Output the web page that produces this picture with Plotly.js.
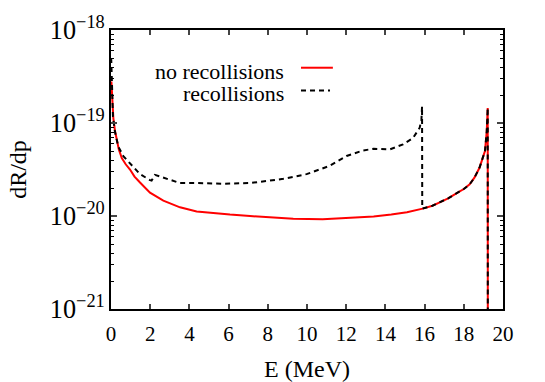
<!DOCTYPE html>
<html>
<head>
<meta charset="utf-8">
<script src="https://cdn.plot.ly/plotly-3.0.1.min.js"></script>
<style>
  html, body { margin: 0; padding: 0; background: #fff; }
  #chart { width: 545px; height: 382px; }
</style>
</head>
<body>
<div id="chart"></div>
<script>
// no recollisions (red)
var eNoRec = [0.02, 0.07, 0.12, 0.2, 0.29, 0.4, 0.55, 0.75, 0.97, 1.2, 1.48, 1.99, 2.67, 3.52, 4.37, 5.22,
    6.07, 7.09, 8.2, 9.3, 10.8, 12.2, 13.4, 14.3, 15.1, 15.9, 16.4, 16.8, 17.2, 17.6, 18.0, 18.3, 18.55,
    18.8, 19.0, 19.08, 19.17, 19.22, 19.23];
var rNoRec = [2.79e-19, 1.85e-19, 1.13e-19, 8.3e-20, 6.6e-20, 5.2e-20, 4.2e-20, 3.6e-20, 3.16e-20, 2.65e-20,
    2.29e-20, 1.78e-20, 1.46e-20, 1.24e-20, 1.12e-20, 1.07e-20,
    1.035e-20, 1.0e-20, 9.6e-21, 9.35e-21, 9.2e-21, 9.5e-21, 9.9e-21, 1.04e-20, 1.10e-20, 1.20e-20, 1.29e-20,
    1.41e-20, 1.55e-20, 1.74e-20, 1.95e-20, 2.19e-20, 2.6e-20,
    3.3e-20, 4.3e-20, 5.0e-20, 8.1e-20, 1.45e-19, 1e-23];

// recollisions (black dashed)
var eRec = [0.01, 0.05, 0.1, 0.2, 0.37, 0.63, 0.97, 1.48, 1.99, 2.07, 2.24, 2.67, 3.52, 4.4, 5.73, 7.09,
    8.0, 8.79, 9.98, 11.17, 12.02, 12.87, 13.4, 14.23, 14.9, 15.41, 15.75, 15.84, 15.87, 15.88, 16.4, 16.8,
    17.2, 17.6, 18.0, 18.3, 18.55, 18.8, 19.0, 19.08, 19.17, 19.22, 19.23];
var rRec = [5.0e-19, 1.78e-19, 1.17e-19, 8.1e-20, 5.6e-20, 4.4e-20, 3.7e-20, 2.82e-20, 2.43e-20, 2.40e-20,
    2.77e-20, 2.6e-20, 2.26e-20, 2.26e-20, 2.22e-20, 2.26e-20,
    2.4e-20, 2.51e-20, 2.82e-20, 3.47e-20, 4.42e-20, 5.07e-20, 5.28e-20, 5.2e-20, 5.9e-20, 6.9e-20, 8.9e-20,
    1.10e-19, 1.51e-19, 1.2e-20, 1.29e-20, 1.41e-20,
    1.55e-20, 1.74e-20, 1.95e-20, 2.19e-20, 2.6e-20, 3.3e-20, 4.3e-20, 5.0e-20, 8.1e-20, 1.45e-19, 1e-23];

var font = 'Liberation Serif';

var data = [
    {
        x: eNoRec, y: rNoRec,
        name: 'no recollisions',
        type: 'scatter', mode: 'lines',
        line: {color: '#ff0000', width: 2},
        showlegend: false
    },
    {
        x: eRec, y: rRec,
        name: 'recollisions',
        type: 'scatter', mode: 'lines',
        line: {color: '#000000', width: 2, dash: '5px,4px'},
        showlegend: false
    }
];

var layout = {
    width: 545,
    height: 382,
    margin: {l: 111, r: 42, t: 28, b: 73},
    paper_bgcolor: '#fff',
    plot_bgcolor: '#fff',
    font: {family: font, size: 21, color: '#000'},
    xaxis: {
        range: [0, 20],
        dtick: 2,
        ticks: 'inside',
        ticklen: 5,
        tickwidth: 1.5,
        ticklabelstandoff: 5,
        tickfont: {family: font, size: 21},
        showline: true,
        linewidth: 2,
        linecolor: '#000',
        mirror: 'allticks',
        showgrid: false,
        zeroline: false,
        title: {text: 'E (MeV)', font: {family: font, size: 24}}
    },
    yaxis: {
        type: 'log',
        range: [-21, -18],
        dtick: 1,
        exponentformat: 'power',
        showexponent: 'all',
        ticks: 'inside',
        ticklen: 6,
        tickwidth: 1.5,
        tickfont: {family: font, size: 21},
        minor: {ticks: 'inside', ticklen: 3, dtick: 'D1', tickcolor: '#000', tickwidth: 1},
        showline: true,
        linewidth: 2,
        linecolor: '#000',
        mirror: 'allticks',
        showgrid: false,
        zeroline: false,
        automargin: true,
        title: {text: 'dR/dp', font: {family: font, size: 24}, standoff: 16}
    },
    annotations: [
        {xref: 'paper', yref: 'paper', x: 0.4464, y: 0.8505, xanchor: 'right', yanchor: 'middle',
         text: 'no recollisions', showarrow: false, font: {family: font, size: 22}},
        {xref: 'paper', yref: 'paper', x: 0.4464, y: 0.772, xanchor: 'right', yanchor: 'middle',
         text: 'recollisions', showarrow: false, font: {family: font, size: 22}}
    ],
    shapes: [
        {type: 'line', xref: 'paper', yref: 'paper', x0: 0.4847, x1: 0.566, y0: 0.8648, y1: 0.8648,
         line: {color: '#ff0000', width: 2}},
        {type: 'line', xref: 'paper', yref: 'paper', x0: 0.4847, x1: 0.5587, y0: 0.783, y1: 0.783,
         line: {color: '#000000', width: 2, dash: '5px,4px'}}
    ]
};

Plotly.newPlot('chart', data, layout, {displayModeBar: false});
</script>
</body>
</html>
